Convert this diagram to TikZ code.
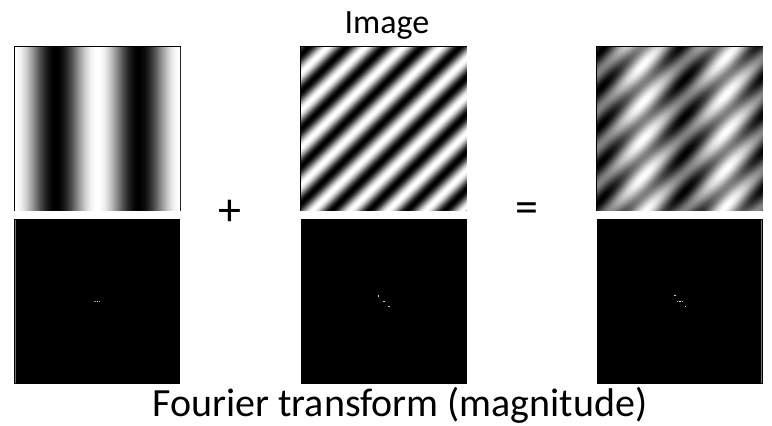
\documentclass[tikz,border=0pt]{standalone}
\usepackage{fontspec}
\setmainfont{Carlito}
\pgfdeclarefunctionalshading{leftimg}{\pgfpointorigin}{\pgfpoint{166bp}{164bp}}{}{%
pop 166 div 720 mul cos 1 add 2 div dup dup}
\pgfdeclarefunctionalshading{midimg}{\pgfpointorigin}{\pgfpoint{166bp}{164bp}}{}{%
164 div neg 1 add exch 166 div add 1584 mul 100.8 add cos 1 add 2 div dup dup}
\pgfdeclarefunctionalshading{rightimg}{\pgfpointorigin}{\pgfpoint{166bp}{164bp}}{}{%
164 div neg 1 add exch 166 div dup 0.28 sub 720 mul cos 3 1 roll add 1584 mul 100.8 add cos add 2 add 4 div dup dup}
\definecolor{dotgray}{gray}{0.6}
\definecolor{dotlight}{gray}{0.8}
\definecolor{edgegray}{gray}{0.45}
\tikzset{
  imgbox/.style={inner sep=0pt, outer sep=0pt, draw=black, line width=1bp, anchor=north west},
  fftbox/.style={inner sep=0pt, outer sep=0pt, fill=black, minimum width=166bp, minimum height=165bp, anchor=north west},
  title/.style={font=\fontsize{34bp}{40bp}\selectfont, inner sep=0pt, anchor=base},
  caption/.style={font=\fontsize{40bp}{46bp}\selectfont, inner sep=0pt, anchor=base},
  op/.style={font=\fontsize{46bp}{50bp}\selectfont, inner sep=0pt},
  edgeline/.style={draw=edgegray, line width=1bp}
}
\begin{document}
\begin{tikzpicture}[x=1bp,y=-1bp]
\useasboundingbox[fill=white] (0,0) rectangle (772,425);
% image row
\node[imgbox] (imgA) at (14,46) {\pgfuseshading{leftimg}};
\node[imgbox] (imgB) at (300.5,46) {\pgfuseshading{midimg}};
\node[imgbox] (imgC) at (596.5,46) {\pgfuseshading{rightimg}};
% fourier row
\node[fftbox] (fftA) at (14,219) {};
\node[fftbox] (fftB) at (300.5,219) {};
\node[fftbox] (fftC) at (596.5,219) {};
\draw[edgeline] ([xshift=1.5bp,yshift=-1bp]fftA.north west) -- ([xshift=1.5bp,yshift=1bp]fftA.south west);
\draw[edgeline] ([xshift=-1.5bp,yshift=-1bp]fftC.north east) -- ([xshift=-1.5bp,yshift=1bp]fftC.south east);
% dots
\fill[dotgray] (94.3,300.6) rectangle +(1.4,1.4);
\fill[white] (96.6,300.6) rectangle +(1.4,1.4);
\fill[dotgray] (99.0,300.6) rectangle +(1.4,1.4);
\fill[dotlight] (377.6,295.3) rectangle +(1.4,1.4);
\fill[dotlight] (383.3,300.6) rectangle +(1.4,1.4);
\fill[dotlight] (388.3,306.0) rectangle +(1.4,1.4);
\fill[dotlight] (674.3,295.0) rectangle +(1.4,1.4);
\fill[dotgray] (676.6,300.6) rectangle +(1.4,1.4);
\fill[white] (679.3,300.6) rectangle +(1.4,1.4);
\fill[dotgray] (682.0,300.6) rectangle +(1.4,1.4);
\fill[dotlight] (685.0,305.6) rectangle +(1.4,1.4);
% texts
\node[title] (ttl) at (387,33) {Image};
\node[caption] (cap) at (400,416) {Fourier transform (magnitude)};
\node[op] (plus) at (230,213) {+};
\node[op] (eq) at (527,213) {=};
\end{tikzpicture}
\end{document}
